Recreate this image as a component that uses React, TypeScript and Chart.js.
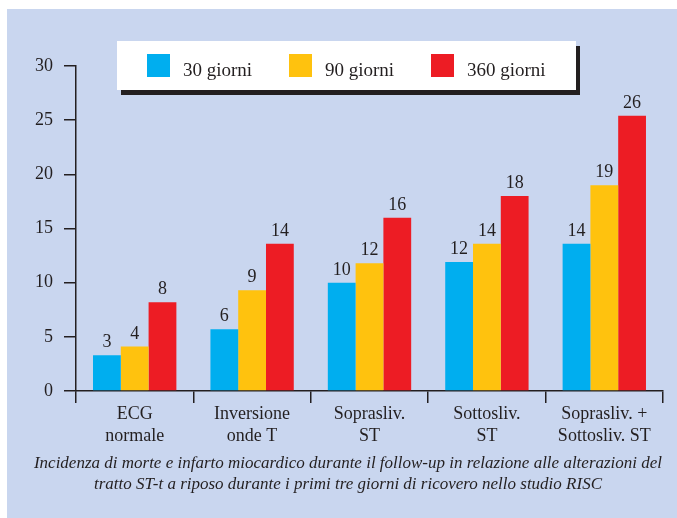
import React, { useEffect, useRef } from "react";
import { Chart, registerables } from "chart.js";

Chart.register(...registerables);

const categories: string[][] = [
  ["ECG", "normale"],
  ["Inversione", "onde T"],
  ["Soprasliv.", "ST"],
  ["Sottosliv.", "ST"],
  ["Soprasliv. +", "Sottosliv. ST"],
];
const seriesNames = ["30 giorni", "90 giorni", "360 giorni"];
const giorni30 = [3.3, 5.7, 10.0, 11.9, 13.6];
const giorni90 = [4.1, 9.3, 11.8, 13.6, 19.0];
const giorni360 = [8.2, 13.6, 16.0, 18.0, 25.4];
const labels30 = [3, 6, 10, 12, 14];
const labels90 = [4, 9, 12, 14, 19];
const labels360 = [8, 14, 16, 18, 26];
const captionLines = [
  "Incidenza di morte e infarto miocardico durante il follow-up in relazione alle alterazioni del",
  "tratto ST-t a riposo durante i primi tre giorni di ricovero nello studio RISC",
];

const COLORS = ["#00aeef", "#ffc20e", "#ed1c24"];
const BG = "#c9d6ef";
const INK = "#231f20";
const SERIF = "'Liberation Serif', 'Times New Roman', serif";

export default function App() {
  const ref = useRef<HTMLCanvasElement | null>(null);

  useEffect(() => {
    if (!ref.current) return;
    const valueLabels = [labels30, labels90, labels360];

    const bgPlugin = {
      id: "bgPlugin",
      beforeDraw(chart: any) {
        const ctx = chart.ctx;
        ctx.save();
        ctx.fillStyle = "#ffffff";
        ctx.fillRect(0, 0, chart.width, chart.height);
        ctx.fillStyle = BG;
        ctx.fillRect(7, 9, chart.width - 7, chart.height - 9);
        ctx.restore();
      },
    };

    const overlayPlugin = {
      id: "overlayPlugin",
      afterDatasetsDraw(chart: any) {
        const ctx = chart.ctx;
        ctx.save();
        ctx.fillStyle = INK;
        ctx.font = `18px ${SERIF}`;
        ctx.textAlign = "center";
        ctx.textBaseline = "alphabetic";
        chart.data.datasets.forEach((ds: any, i: number) => {
          const meta = chart.getDatasetMeta(i);
          meta.data.forEach((bar: any, j: number) => {
            ctx.fillText(String(valueLabels[i][j]), bar.x, bar.y - 8);
          });
        });
        ctx.restore();
      },
      afterDraw(chart: any) {
        const ctx = chart.ctx;
        ctx.save();
        ctx.fillStyle = INK;
        ctx.fillRect(121, 46, 459, 49);
        ctx.fillStyle = "#ffffff";
        ctx.fillRect(117, 41, 459, 49);
        const sqX = [147, 289, 431];
        ctx.font = `19px ${SERIF}`;
        ctx.textAlign = "left";
        ctx.textBaseline = "alphabetic";
        seriesNames.forEach((name, i) => {
          ctx.fillStyle = COLORS[i];
          ctx.fillRect(sqX[i], 54, 23, 23);
          ctx.fillStyle = INK;
          ctx.fillText(name, sqX[i] + 36, 76);
        });
        ctx.font = `italic 17px ${SERIF}`;
        ctx.textAlign = "center";
        ctx.fillStyle = INK;
        ctx.fillText(captionLines[0], 348, 468);
        ctx.fillText(captionLines[1], 348, 488.5);
        ctx.restore();
      },
    };

    const chart = new Chart(ref.current, {
      type: "bar",
      data: {
        labels: categories,
        datasets: [
          { label: seriesNames[0], data: giorni30, backgroundColor: COLORS[0] },
          { label: seriesNames[1], data: giorni90, backgroundColor: COLORS[1] },
          { label: seriesNames[2], data: giorni360, backgroundColor: COLORS[2] },
        ],
      },
      options: {
        animation: false,
        responsive: false,
        devicePixelRatio: 1,
        layout: { padding: { left: 0, top: 66, right: 14, bottom: 0 } },
        datasets: {
          bar: { categoryPercentage: 0.71, barPercentage: 1.0, borderWidth: 0 },
        },
        plugins: {
          legend: { display: false },
          tooltip: { enabled: false },
          title: { display: false },
        },
        scales: {
          x: {
            afterFit: (scale: any) => {
              scale.height = 127;
            },
            grid: {
              display: true,
              drawOnChartArea: false,
              drawTicks: true,
              tickLength: 12,
              color: INK,
              lineWidth: 1.5,
            },
            border: { display: true, color: INK, width: 1.5 },
            ticks: {
              color: INK,
              font: { family: SERIF, size: 18, lineHeight: 1.24 },
              padding: 0,
              maxRotation: 0,
              autoSkip: false,
            },
          },
          y: {
            min: 0,
            max: 30,
            afterFit: (scale: any) => {
              scale.width = 76;
            },
            grid: {
              display: true,
              drawOnChartArea: false,
              drawTicks: true,
              tickLength: 12,
              color: INK,
              lineWidth: 1.5,
            },
            border: { display: true, color: INK, width: 1.5 },
            ticks: {
              stepSize: 5,
              color: INK,
              font: { family: SERIF, size: 18 },
              padding: 11,
            },
          },
        },
      },
      plugins: [bgPlugin, overlayPlugin],
    });
    return () => chart.destroy();
  }, []);

  return (
    <div style={{ position: "fixed", left: 0, top: 0, width: 677, height: 518 }}>
      <canvas ref={ref} width={677} height={518} style={{ display: "block", width: 677, height: 518 }} />
    </div>
  );
}
